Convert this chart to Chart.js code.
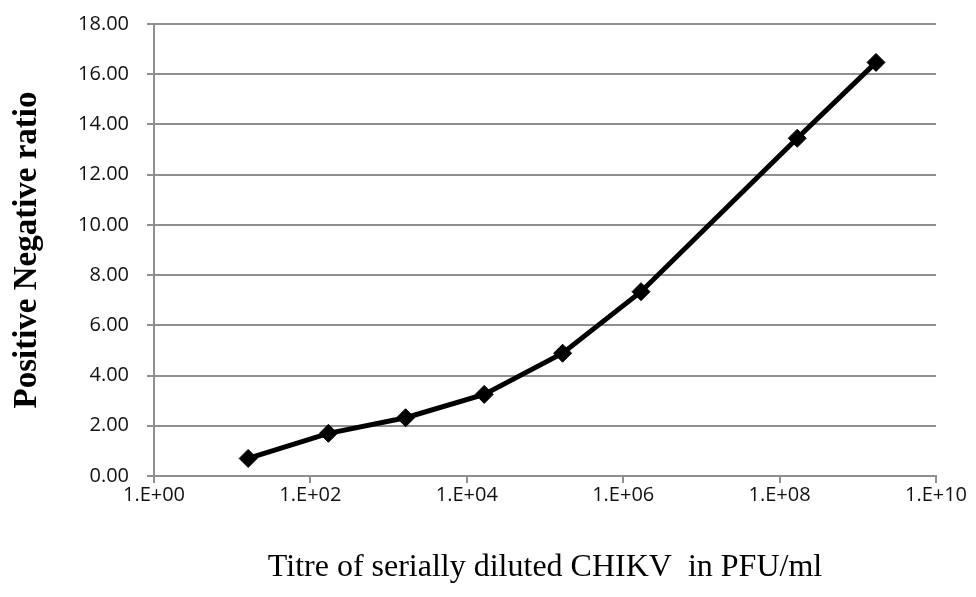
<!DOCTYPE html>
<html>
<head>
<meta charset="utf-8">
<script src="https://cdn.jsdelivr.net/npm/chart.js@4"></script>
<style>
  html, body { margin: 0; padding: 0; background: #fff; }
  #wrap { width: 976px; height: 597px; }
</style>
</head>
<body>
<div id="wrap"><canvas id="titre-canvas" width="976" height="597"></canvas></div>
<script>
// titre (PFU/ml) vs positive/negative ratio
let titres     = [1.6e1, 1.7e2, 1.65e3, 1.67e4, 1.68e5, 1.69e6, 1.68e8, 1.71e9];
let pn_ratio   = [0.70, 1.70, 2.32, 3.25, 4.89, 7.34, 13.45, 16.47];
let x_ticks    = [1e0, 1e2, 1e4, 1e6, 1e8, 1e10];
let y_ticks    = [0, 2, 4, 6, 8, 10, 12, 14, 16, 18];

let points = titres.map((t, i) => ({ x: t, y: pn_ratio[i] }));

function expLabel(v) {
  let e = Math.round(Math.log10(v));
  return '1.E+' + (e < 10 ? '0' + e : e);
}

let gridColor = '#8f8f8f';
let tickFont  = { family: 'Open Sans', size: 20 };

var ctx = document.getElementById('titre-canvas').getContext('2d');
window.myLine = new Chart(ctx, {
  type: 'line',
  data: {
    datasets: [{
      label: 'P/N ratio',
      data: points,
      borderColor: '#000',
      backgroundColor: '#000',
      borderWidth: 5,
      pointStyle: 'rectRot',
      pointRadius: 9,
      pointBorderWidth: 1,
      tension: 0
    }]
  },
  options: {
    responsive: false,
    animation: false,
    layout: { padding: { left: 4, right: 40, top: 24, bottom: 6 } },
    plugins: {
      legend: { display: false },
      tooltip: { enabled: false }
    },
    scales: {
      x: {
        type: 'logarithmic',
        min: 1,
        max: 1e10,
        afterBuildTicks: (scale) => { scale.ticks = x_ticks.map(v => ({ value: v })); },
        afterFit: (scale) => { scale.height = 115; },
        ticks: {
          callback: (v) => expLabel(v),
          color: '#111',
          font: tickFont,
          padding: 0,
          maxRotation: 0,
          autoSkip: false
        },
        grid: {
          drawOnChartArea: false,
          color: gridColor,
          tickLength: 7,
          lineWidth: 2
        },
        border: { color: gridColor, width: 2 },
        title: {
          display: true,
          text: 'Titre of serially diluted CHIKV  in PFU/ml',
          color: '#000',
          font: { family: 'Liberation Serif', size: 32 },
          padding: { top: 36 }
        }
      },
      y: {
        min: 0,
        max: 18,
        afterBuildTicks: (scale) => { scale.ticks = y_ticks.map(v => ({ value: v })); },
        afterFit: (scale) => {
          scale.width = 150;
          scale.paddingTop = 0;
          scale.paddingBottom = 0;
        },
        ticks: {
          callback: (v) => v.toFixed(2),
          color: '#111',
          font: tickFont,
          padding: 18
        },
        grid: {
          color: gridColor,
          tickLength: 7,
          lineWidth: 2
        },
        border: { color: gridColor, width: 2 },
        title: {
          display: true,
          text: 'Positive Negative ratio',
          color: '#000',
          font: { family: 'Liberation Serif', size: 33, weight: 'bold' },
          padding: { bottom: 2 }
        }
      }
    }
  }
});
</script>
</body>
</html>
